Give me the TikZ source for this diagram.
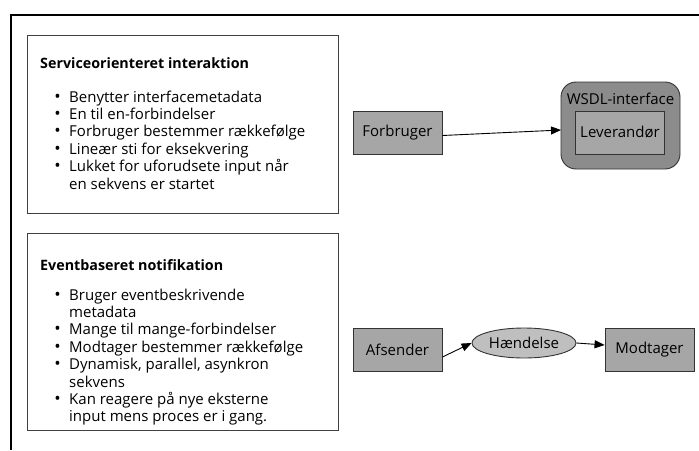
\documentclass[tikz,border=0pt]{standalone}
\usepackage{fontspec}
\setmainfont{Open Sans}
\usetikzlibrary{arrows.meta,shapes.geometric}
\begin{document}
\begin{tikzpicture}[x=1pt,y=-1pt,
  txt/.style={font=\fontsize{15}{18}\selectfont},
  ttl/.style={font=\fontsize{14.3}{18}\selectfont\bfseries},
  panel/.style={draw=black!75,line width=0.9pt},
  greybox/.style={draw=black!80,fill=black!35,line width=0.9pt,minimum width=89pt,minimum height=43pt,inner sep=0pt,txt},
  arr/.style={-{Triangle[length=10pt,width=8pt]},line width=0.9pt},
  line/.style={anchor=base west,inner sep=0pt,txt},
  bul/.style={line,label={[anchor=base east,inner sep=0pt,font=\fontsize{17}{18}\selectfont,xshift=-8pt]base west:\textbullet}}]
\useasboundingbox (0,0) rectangle (699,450);
% outer frame, open to the right and below
\draw[line width=2.5pt] (699,15) -- (11,15) -- (11,450);

% upper panel
\draw[panel] (27,35) rectangle (338,213);
\node[line,ttl] (t1) at (40,68) {Serviceorienteret interaktion};
\node[bul] (a1) at (69,102) {Benytter interfacemetadata};
\node[bul] (a2) at (69,119.4) {En til en-forbindelser};
\node[bul] (a3) at (69,136.8) {Forbruger bestemmer rækkefølge};
\node[bul] (a4) at (69,154.2) {Lineær sti for eksekvering};
\node[bul] (a5) at (69,171.6) {Lukket for uforudsete input når};
\node[line] (a6) at (69,189) {en sekvens er startet};

% lower panel
\draw[panel] (27,233) rectangle (338,430);
\node[line,ttl] (t2) at (40,270) {Eventbaseret notifikation};
\node[bul] (b1) at (69,300) {Bruger eventbeskrivende};
\node[line] (b2) at (69,317.4) {metadata};
\node[bul] (b3) at (69,334.8) {Mange til mange-forbindelser};
\node[bul] (b4) at (69,352.2) {Modtager bestemmer rækkefølge};
\node[bul] (b5) at (69,369.6) {Dynamisk, parallel, asynkron};
\node[line] (b6) at (69,387) {sekvens};
\node[bul] (b7) at (69,404.4) {Kan reagere på nye eksterne};
\node[line] (b8) at (69,421.8) {input mens proces er i gang.};

% service interaction
\node[greybox] (forb) at (397.5,132.5) {Forbruger};
\draw[draw=black!80,fill=black!45,line width=0.9pt,rounded corners=15pt] (561,82) rectangle (680,169);
\coordinate (wsdl) at (561,130);
\node[txt,anchor=base,inner sep=0pt] (wlab) at (620.5,104) {WSDL-interface};
\node[greybox] (lev) at (620,132.5) {Leverandør};
\draw[arr] (forb.east) ++(0,3) -- (wsdl);

% event notification
\node[greybox] (afs) at (397.5,350) {Afsender};
\node[ellipse,draw=black!80,fill=black!25,line width=0.9pt,minimum width=104pt,minimum height=30pt,inner sep=0pt,txt] (haend) at (524,343) {Hændelse};
\node[greybox] (modt) at (649.5,350) {Modtager};
\draw[arr] (afs.east) ++(0,7) -- (haend.west);
\draw[arr] (haend.east) -- ([yshift=5pt]modt.west);
\end{tikzpicture}
\end{document}
